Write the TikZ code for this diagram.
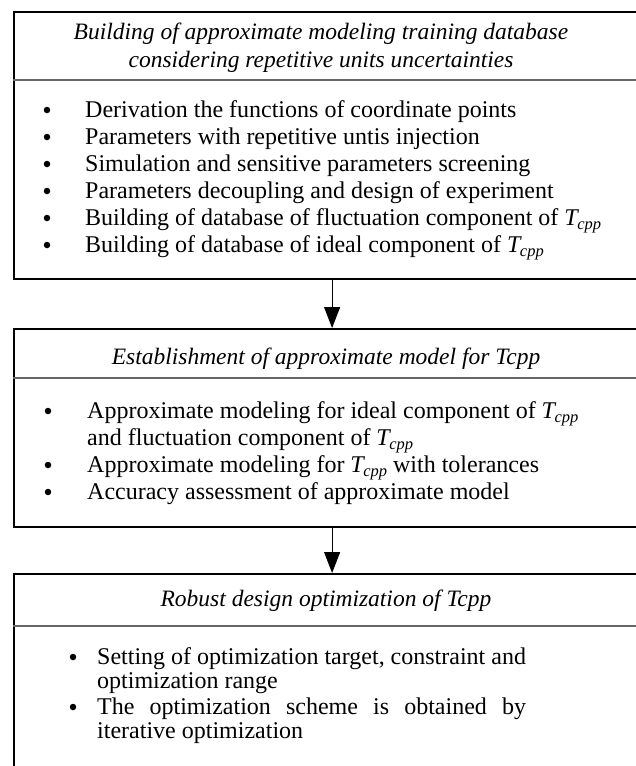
\documentclass[tikz,border=0pt]{standalone}
\usepackage{fontspec}
\setmainfont{Liberation Serif}
\usepackage{calc}
\usetikzlibrary{arrows.meta}

% italic T with a small lowered "cpp"
\newcommand{\Tcpp}{\textit{T\kern-0.5pt\raisebox{-0.18em}{\fontsize{16.5}{16.5}\selectfont cpp}}}

\begin{document}
\begin{tikzpicture}[x=1pt, y=-1pt,
  panel/.style={draw=black, line width=2.2pt, minimum width=636pt,
                anchor=north west, inner sep=0pt},
  divider/.style={draw=black!60, line width=1.3pt},
  head/.style={font=\fontsize{23.5}{28}\selectfont\itshape, inner sep=0pt,
               text height=0.7em, text depth=0.25em},
  itemtext/.style={font=\fontsize{24}{27}\selectfont, anchor=west, inner sep=0pt,
                   text height=0.7em, text depth=0.25em},
  dot/.style={circle, fill=black, inner sep=0pt, minimum size=6.5pt},
  flow/.style={line width=1pt, -{Triangle[width=16pt,length=21pt]}}
]
\useasboundingbox (0,0) rectangle (636,766);
\clip (0,0) rectangle (636,766);

% three stage panels (they run on past the right and bottom edges)
\node[panel, minimum height=267pt] (box1) at (13,11) {};
\node[panel, minimum height=198pt] (box2) at (13,328) {};
\node[panel, minimum height=240pt] (box3) at (13,573) {};

% rules under the headings
\draw[divider] (13,80) -- (660,80);
\draw[divider] (13,378) -- (660,378);
\draw[divider] (13,626) -- (660,626);

% stage 1
\node[head] (h1a) at (321,37) {Building of approximate modeling training database};
\node[head] (h1b) at (321,65) {considering repetitive units uncertainties};

\node[dot] (d11) at (47,110) {};
\node[itemtext] (i11) at (85,115) {Derivation the functions of coordinate points};
\node[dot] (d12) at (47,137) {};
\node[itemtext] (i12) at (85,142) {Parameters with repetitive untis injection};
\node[dot] (d13) at (47,164) {};
\node[itemtext] (i13) at (85,169) {Simulation and sensitive parameters screening};
\node[dot] (d14) at (47,191) {};
\node[itemtext] (i14) at (85,196) {Parameters decoupling and design of experiment};
\node[dot] (d15) at (47,218) {};
\node[itemtext] (i15) at (85,223) {Building of database of fluctuation component of \Tcpp};
\node[dot] (d16) at (47,245) {};
\node[itemtext] (i16) at (85,250) {Building of database of ideal component of \Tcpp};

% stage 2
\node[head] (h2) at (326,362) {Establishment of approximate model for Tcpp};

\node[dot] (d21) at (48,411) {};
\node[itemtext] (i21) at (87,416) {Approximate modeling for ideal component of \Tcpp};
\node[itemtext] (i21b) at (87,443) {and fluctuation component of \Tcpp};
\node[dot] (d22) at (48,465) {};
\node[itemtext] (i22) at (87,470) {Approximate modeling for \Tcpp\ with tolerances};
\node[dot] (d23) at (48,492) {};
\node[itemtext] (i23) at (87,497) {Accuracy assessment of approximate model};

% stage 3
\node[head] (h3) at (326,604) {Robust design optimization of Tcpp};

\node[dot] (d31) at (73,657) {};
\node[itemtext] (i31) at (97,662) {Setting of optimization target, constraint and};
\node[itemtext] (i31b) at (97,686) {optimization range};
\node[dot] (d32) at (73,707) {};
\node[itemtext] (i32) at (97,712)
  {\makebox[\widthof{Setting of optimization target, constraint and}][s]{The optimization scheme is obtained by}};
\node[itemtext] (i32b) at (97,736) {iterative optimization};

% flow between stages
\draw[flow] (box1.south) -- (box2.north);
\draw[flow] (box2.south) -- (box3.north);
\end{tikzpicture}
\end{document}
